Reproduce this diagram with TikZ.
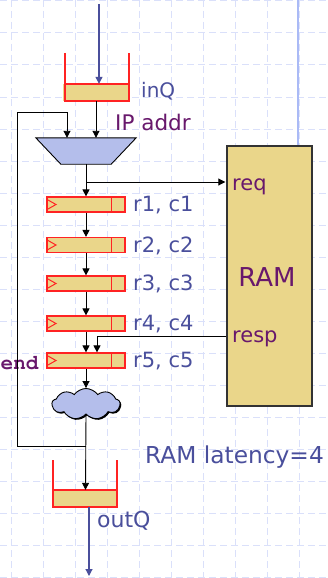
\documentclass[tikz,border=0pt]{standalone}
\usepackage{fontspec}
\setmainfont{DejaVu Sans}
\usetikzlibrary{arrows.meta,shapes.symbols,shadows,calc}

\definecolor{qyellow}{RGB}{234,214,138}
\definecolor{regred}{RGB}{255,35,35}
\definecolor{lav}{RGB}{180,190,235}
\definecolor{navy}{RGB}{74,79,156}
\definecolor{plum}{RGB}{104,24,108}
\definecolor{gridc}{RGB}{218,224,250}
\definecolor{wire}{RGB}{170,186,246}

\newcommand{\courierbold}{\fontencoding{T1}\fontfamily{pcr}\fontseries{b}\selectfont}

\tikzset{
  gridline/.style={gridc, line width=1pt, dash pattern=on 7pt off 4pt},
  arr/.style={-{Triangle[width=7pt,length=7pt]}, line width=0.9pt, black},
  navyarr/.style={-{Triangle[width=7pt,length=7pt]}, line width=1.2pt, navy},
  qred/.style={regred, line width=1.1pt},
  qbox/.style={rectangle, fill=qyellow, inner sep=0pt, minimum width=66pt, minimum height=17pt},
  reg/.style={rectangle, draw=regred, fill=qyellow, line width=1.2pt, inner sep=0pt,
    minimum width=78pt, minimum height=15pt,
    path picture={
      \draw[regred, line width=0.9pt]
        ([xshift=-14pt]path picture bounding box.north east) --
        ([xshift=-14pt]path picture bounding box.south east);
      \draw[regred, line width=1pt]
        ([xshift=1pt,yshift=-3pt]path picture bounding box.north west) --
        ([xshift=9pt]path picture bounding box.west) --
        ([xshift=1pt,yshift=3pt]path picture bounding box.south west);
    }},
  navylbl/.style={text=navy, inner sep=0pt, anchor=base west},
  plumlbl/.style={text=plum, inner sep=0pt, anchor=base west},
}

\begin{document}
\begin{tikzpicture}[x=1pt,y=-1pt]
\useasboundingbox (0,0) rectangle (328,578);
\fill[white] (0,0) rectangle (328,578);

% background grid
\foreach \gx in {11,43,...,299} \draw[gridline] (\gx,0) -- (\gx,578);
\foreach \gy in {1,33,...,577} \draw[gridline] (0,\gy) -- (328,\gy);

% RAM block and the wire above it
\node[rectangle, fill=qyellow, draw=black!80, line width=1.4pt, inner sep=0pt,
      minimum width=85pt, minimum height=260pt] (ram) at (269.5,276) {};
\coordinate (wtop) at (298,0);
\draw[wire, line width=1.6pt] (wtop) -- (wtop |- ram.north);
\node[plumlbl, font=\fontsize{21}{21}\selectfont] (reqlbl) at (232,190) {req};
\node[plumlbl, font=\fontsize{21}{21}\selectfont] (resplbl) at (232,342) {resp};
\node[text=plum, inner sep=0pt, anchor=base, font=\fontsize{26}{26}\selectfont] (ramlbl) at (267,286) {RAM};

% input queue
\node[qbox] (inq) at (96,92.5) {};
\draw[qred] (65,53) -- (65,101) -- (129,101) -- (129,53);
\draw[qred] (65,84) -- (129,84);
\node[navylbl, font=\fontsize{20}{20}\selectfont] (inqlbl) at (141,97.7) {inQ};
\coordinate (in) at (99,4);
\draw[navyarr] (in) -- (in |- inq.north);

% address multiplexer: a node for the anchors, drawn as a trapezium (wide side on top)
\node[rectangle, inner sep=0pt, minimum width=100pt, minimum height=26pt] (mux) at (86,151) {};
\draw[fill=lav, draw=black, line width=0.9pt, line join=miter]
  (mux.north west) -- (mux.north east) -- ([xshift=-25pt]mux.south east)
  -- ([xshift=25pt]mux.south west) -- cycle;
\node[plumlbl, font=\fontsize{21.5}{21.5}\selectfont] (iplbl) at (115,130) {IP addr};

% pipeline registers
\node[reg] (r1) at (86,204.5) {};
\node[reg] (r2) at (86,245) {};
\node[reg] (r3) at (86,283.5) {};
\node[reg] (r4) at (86,323.5) {};
\node[reg] (r5) at (86,360.5) {};
\foreach \i/\yy in {1/211.5,2/252,3/290.5,4/330.5,5/367.5}
  \node[navylbl, font=\fontsize{21}{21}\selectfont] (l\i) at (133,\yy) {r\i, c\i};
\node[plumlbl, font=\courierbold\fontsize{21}{21}\selectfont] (endlbl) at (0.5,369) {end};

% processing cloud
\node[cloud, cloud puffs=9, cloud puff arc=110, aspect=2.2, fill=lav, draw=black, line width=0.9pt,
      minimum width=68pt, minimum height=31pt, inner sep=0pt,
      drop shadow={shadow xshift=1.2pt, shadow yshift=-1.2pt, fill=black, opacity=1}] (cl) at (86,404) {};

% output queue
\node[qbox, minimum width=65pt] (outq) at (85.5,498.5) {};
\draw[qred] (53,460) -- (53,507) -- (117,507) -- (117,460);
\draw[qred] (53,490) -- (117,490);
\node[navylbl, font=\fontsize{22}{22}\selectfont] (outqlbl) at (97,527) {outQ};
\coordinate (out) at (89,576);
\draw[navyarr] ([xshift=3.5pt]outq.south) -- (out);

\node[navylbl, font=\fontsize{23.3}{23.3}\selectfont] (latlbl) at (145,463) {RAM latency=4};

% connectors
\draw[arr] (inq.south) -- (inq.south |- mux.north);
\draw[arr] (mux.south) -- (r1.north);
\coordinate (rq) at (mux.south |- 0,182);
\draw[arr] (rq) -- ([xshift=-1pt]rq -| ram.west);
\draw[arr] (r1.south) -- (r2.north);
\draw[arr] (r2.south) -- (r3.north);
\draw[arr] (r3.south) -- (r4.north);
\draw[arr] (r4.south) -- (r5.north);
\coordinate (rs) at (ram.west |- 0,336);
\draw[arr] (rs) -| ([xshift=11pt]r5.north);
\draw[arr] (r5.south) -- (cl.north);
\draw[arr] (cl.south) -- (outq.north);
\coordinate (fb) at (cl.south |- 0,446);
\coordinate (lp) at (17,112);
\coordinate (mx2) at ([xshift=-19pt]mux.north);
\draw[arr] (fb) -| (lp) -| (mx2);
\end{tikzpicture}
\end{document}
